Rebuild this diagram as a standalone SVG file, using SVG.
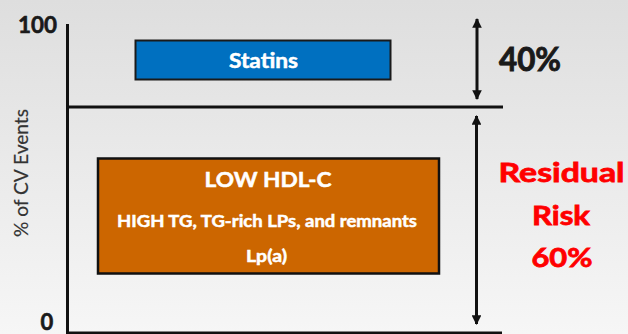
<svg xmlns="http://www.w3.org/2000/svg" width="628" height="334" viewBox="0 0 628 334">
  <defs>
    <linearGradient id="bg" x1="0" y1="0" x2="0" y2="1">
      <stop offset="0" stop-color="#dedede"/>
      <stop offset="1" stop-color="#f6f6f6"/>
    </linearGradient>
    <marker id="head" viewBox="0 0 10 10" refX="9" refY="5" markerWidth="3.2" markerHeight="3.2" orient="auto-start-reverse" markerUnits="strokeWidth">
      <path d="M0,0 L10,5 L0,10 z" fill="#111"/>
    </marker>
    <style>
      text { font-family: Lato, "Open Sans", "Liberation Sans", sans-serif; }
      .axis { stroke: #111; stroke-width: 3; fill: none; }
      .tick { font-size: 22px; font-weight: 700; fill: #1a1a1a; stroke: #1a1a1a; stroke-width: 0.6; }
      .ylabel { font-size: 20px; fill: #333333; stroke: #333333; stroke-width: 0.2; }
      .box-text { fill: #ffffff; font-weight: 700; text-anchor: middle; stroke: #ffffff; stroke-width: 0.5; }
      .arrow { stroke: #111; stroke-width: 3; fill: none; marker-start: url(#head); marker-end: url(#head); }
      .pct { font-size: 32px; font-weight: 700; fill: #1a1a1a; stroke: #1a1a1a; stroke-width: 0.9; }
      .risk { font-size: 27.5px; font-weight: 700; fill: #ff0000; text-anchor: middle; stroke: #ff0000; stroke-width: 0.8; }
    </style>
  </defs>

  <!-- background -->
  <rect x="0" y="0" width="628" height="334" fill="url(#bg)"/>

  <!-- axes and the 100 / baseline rules -->
  <g id="axes">
    <line class="axis" x1="67.5" y1="24" x2="67.5" y2="334"/>
    <line class="axis" x1="66" y1="107" x2="503" y2="107"/>
    <line class="axis" x1="66" y1="333" x2="502" y2="333"/>
    <text class="tick" x="18" y="33" textLength="39" lengthAdjust="spacingAndGlyphs">100</text>
    <text class="tick" x="47" y="330" text-anchor="middle">0</text>
    <text class="ylabel" transform="translate(27.5,173) rotate(-90)" text-anchor="middle" textLength="128" lengthAdjust="spacingAndGlyphs">% of CV Events</text>
  </g>

  <!-- statin effect bar -->
  <g id="statins">
    <rect x="135.5" y="40.5" width="255" height="39" fill="#0070c0" stroke="#1a1a1a" stroke-width="2"/>
    <text class="box-text" x="263.5" y="68" font-size="20" textLength="69" lengthAdjust="spacingAndGlyphs">Statins</text>
  </g>

  <!-- residual risk factors -->
  <g id="residual-factors">
    <rect x="98" y="158.5" width="341" height="115" fill="#cc6600" stroke="#111" stroke-width="2.5"/>
    <text class="box-text" x="268" y="186.5" font-size="21" textLength="127" lengthAdjust="spacingAndGlyphs">LOW HDL-C</text>
    <text class="box-text" x="267" y="226.5" font-size="17" textLength="300" lengthAdjust="spacingAndGlyphs">HIGH TG, TG-rich LPs, and remnants</text>
    <text class="box-text" x="266.5" y="261.5" font-size="17" textLength="41" lengthAdjust="spacingAndGlyphs">Lp(a)</text>
  </g>

  <!-- span labels -->
  <g id="label-40">
    <text class="pct" x="499" y="71" textLength="62" lengthAdjust="spacingAndGlyphs">40%</text>
  </g>
  <g id="label-residual">
    <text class="risk" x="561.5" y="181.5" textLength="126" lengthAdjust="spacingAndGlyphs">Residual</text>
    <text class="risk" x="561" y="225" textLength="58" lengthAdjust="spacingAndGlyphs">Risk</text>
    <text class="risk" x="562" y="267" textLength="61" lengthAdjust="spacingAndGlyphs">60%</text>
  </g>

  <!-- double-headed span arrows -->
  <g id="connectors">
    <line class="arrow" x1="477" y1="19" x2="477" y2="99"/>
    <line class="arrow" x1="476.5" y1="116" x2="476.5" y2="324"/>
  </g>
</svg>
